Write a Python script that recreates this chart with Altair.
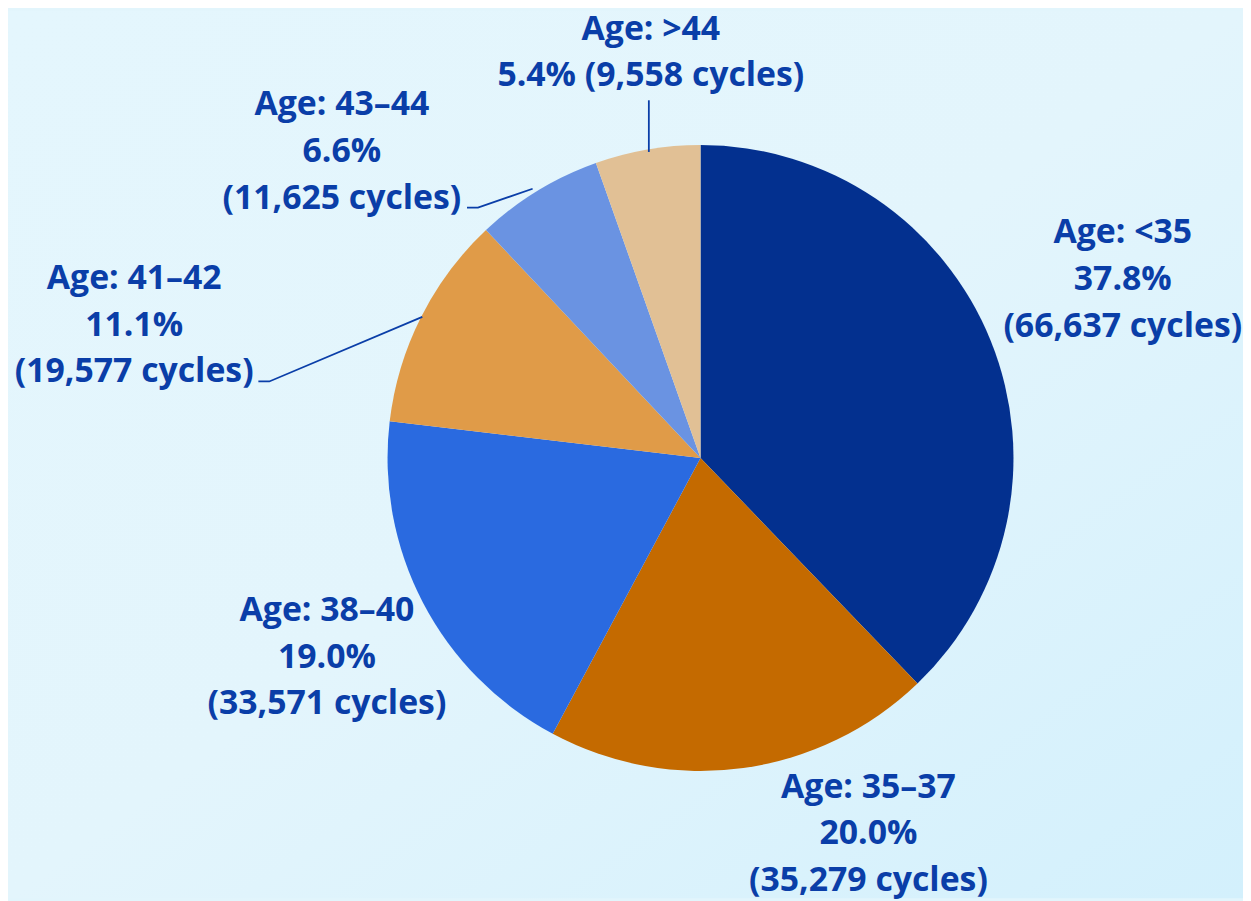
import altair as alt
import pandas as pd

# ---- data ----
groups = ["Age: <35", "Age: 35–37", "Age: 38–40", "Age: 41–42", "Age: 43–44", "Age: >44"]
percents = ["37.8%", "20.0%", "19.0%", "11.1%", "6.6%", "5.4%"]
cycles = [66637, 35279, 33571, 19577, 11625, 9558]

# ---- styles ----
colors = ["#03308f", "#c46a00", "#2a6ae0", "#e09b48", "#6a93e2", "#e1c095"]
TEXT = "#0a3ea8"
W, H = 1243, 893
SX = 5                      # horizontal nudge
CX, CY = 692 + SX, 450      # pie centre inside the view
R = 315
# label block anchors (centre of first line, view pixels) and leader polylines
label_x = [v + SX for v in [1117, 861, 316, 122, 331, 642]]
label_y = [224, 782, 604, 270, 95, 19]
label_lh = [47, 47, 47, 47, 47, 46]
leaders = {
    "Age: 41–42": [(247, 373), (258, 373), (412, 308)],
    "Age: 43–44": [(457, 198), (468, 198), (523, 179)],
    "Age: >44": [(640, 90), (640, 142)],
}

def fmt(n):
    return f"{n:,}"

texts = []
for g, p, c in zip(groups, percents, cycles):
    if g == "Age: >44":
        texts.append(f"{g}\n{p} ({fmt(c)} cycles)")
    else:
        texts.append(f"{g}\n{p}\n({fmt(c)} cycles)")

df = pd.DataFrame({"group": groups, "cycles": cycles, "order": list(range(len(groups)))})
lab = pd.DataFrame({"text": texts, "x": label_x, "y": label_y})
lrows = []
for g, pts in leaders.items():
    for i, (x, y) in enumerate(pts):
        lrows.append({"g": g, "i": i, "x": x + SX, "y": y})
ldf = pd.DataFrame(lrows)

bg = alt.Chart(pd.DataFrame({"a": [0]})).mark_rect(
    fill=alt.Gradient(
        gradient="linear",
        stops=[alt.GradientStop(color="#e4f6fd", offset=0),
               alt.GradientStop(color="#e3f5fc", offset=0.5),
               alt.GradientStop(color="#d3f0fc", offset=1)],
        x1=0, y1=0, x2=1, y2=1,
    )
).encode(x=alt.value(0), x2=alt.value(W), y=alt.value(0), y2=alt.value(H))

pie = alt.Chart(df).mark_arc(outerRadius=R).encode(
    theta=alt.Theta("cycles:Q", stack=True),
    order=alt.Order("order:Q"),
    color=alt.Color("group:N", scale=alt.Scale(domain=groups, range=colors), legend=None),
    x=alt.value(CX), y=alt.value(CY),
)

lines = alt.Chart(ldf).mark_line(color=TEXT, strokeWidth=1.8).encode(
    x=alt.X("x:Q", scale=None), y=alt.Y("y:Q", scale=None),
    detail="g:N", order="i:Q",
)

labels = alt.Chart(lab).mark_text(
    font="Open Sans", fontWeight="bold", fontSize=34, color=TEXT,
    lineBreak="\n", lineHeight=47, align="center", baseline="middle",
).encode(x=alt.X("x:Q", scale=None), y=alt.Y("y:Q", scale=None), text="text:N")

chart = alt.layer(bg, pie, lines, labels).properties(
    width=W, height=H, autosize=alt.AutoSizeParams(type="none"), padding=0,
    background="#e2f5fc",
).configure_view(stroke=None)

chart.save("out.html", embed_options={"renderer": "svg", "actions": False})
